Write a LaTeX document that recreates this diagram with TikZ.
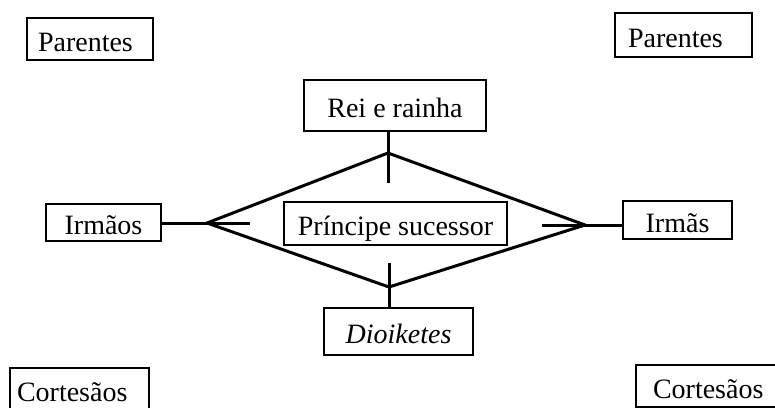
\documentclass[tikz,border=0pt]{standalone}
\usepackage{fontspec}
\setmainfont{Liberation Serif}
\begin{document}
\begin{tikzpicture}[x=1pt,y=-1pt,
  box/.style={draw=black,line width=2pt,inner sep=0pt,font=\fontsize{28}{30}\selectfont,text height=24pt,text depth=0pt},
  conn/.style={line width=3pt,line cap=butt}]
\useasboundingbox[fill=white] (0,0) rectangle (775,407);
% corner boxes
\node[box,minimum width=126pt,minimum height=42pt,text width=126pt,align=left] (parL) at (90,39) {\hspace*{11pt}Parentes};
\node[box,minimum width=137pt,minimum height=44pt,text width=137pt,align=left] (parR) at (683.5,35) {\hspace*{13pt}Parentes};
\node[box,minimum width=139pt,minimum height=42pt,text width=139pt,align=left] (corL) at (79.5,389) {\hspace*{7pt}Cortesãos};
\node[box,minimum width=160pt,minimum height=42pt,text width=160pt,align=left] (corR) at (716,386) {\hspace*{17pt}Cortesãos};
% central boxes
\node[box,minimum width=182pt,minimum height=51pt] (rei) at (395,105.5) {Rei e rainha};
\node[box,minimum width=223pt,minimum height=43pt] (principe) at (395.5,223.5) {Príncipe sucessor};
\node[box,minimum width=149pt,minimum height=47pt] (dio) at (398.5,331.5) {\textit{Dioiketes}};
\node[box,minimum width=115pt,minimum height=37pt] (irmaos) at (103.5,222.5) {Irmãos};
\node[box,minimum width=109pt,minimum height=38pt] (irmas) at (677.5,220) {Irmãs};
% diamond vertices
\coordinate (dT) at (388,153);
\coordinate (dR) at (585,225);
\coordinate (dB) at (389,287);
\coordinate (dL) at (207,223);
\coordinate (stubT) at (388,183);
\coordinate (stubB) at (389,263);
\coordinate (stubL) at (250,223);
\coordinate (stubR) at (542,225);
\draw[conn,line join=miter] (dT) -- (dR) -- (dB) -- (dL) -- cycle;
\draw[conn] (rei.south -| dT) -- (stubT);
\draw[conn] (stubB) -- (dio.north -| dB);
\draw[conn] (irmaos.east |- dL) -- (stubL);
\draw[conn] (stubR) -- (irmas.west |- dR);
\end{tikzpicture}
\end{document}
